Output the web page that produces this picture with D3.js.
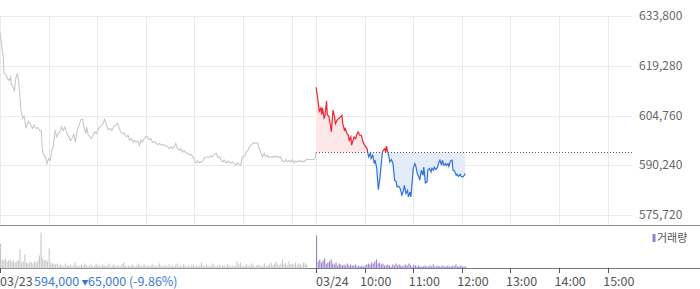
<!DOCTYPE html>
<html><head><meta charset="utf-8">
<script src="https://cdn.jsdelivr.net/npm/d3@7"></script>
<style>body{margin:0;background:#fff}svg{display:block}text{font-family:"Noto Sans CJK KR","Noto Sans",sans-serif}</style>
</head><body><svg id="c" width="700" height="289"></svg>
<script>
// ---- data ----
const yTicks = [575720, 590240, 604760, 619280, 633800];
const prevClose = 594000;
const dayLabels = ["03/23", "03/24"];
const timeTicks = [450, 510, 570, 630, 690, 750]; // minutes from 03/23 09:00 (390 per session)
const timeLabels = ["10:00", "11:00", "12:00", "13:00", "14:00", "15:00"];
const infoPrice = "594,000";
const infoArrow = "▼";
const infoChange = "65,000 (-9.86%)";
const legendLabel = "거래량";

// 03/23 session: minutes since 09:00, price
const day1Min = [0,4,5,8,9,11,13,14,16,18,19,21,23,25,26,28,30,32,35,38,40,42,44,47,49,51,52,53,56,58,60,62,64,66,68,70,72,74,76,78,80,82,84,87,90,91,93,95,97,100,102,104,106,107,109,111,113,115,117,119,122,124,127,129,131,133,136,138,140,143,145,147,149,151,153,156,158,160,162,164,166,168,170,172,174,176,178,180,182,184,186,188,190,193,195,197,199,201,203,205,207,209,211,213,215,217,219,221,223,225,227,230,232,234,236,238,240,242,244,246,248,250,252,254,256,258,260,262,264,267,269,271,273,275,277,279,281,283,285,287,289,291,293,295,297,299,302,304,306,308,310,312,316,318,320,322,324,326,328,330,332,334,336,338,340,342,344,346,348,351,353,355,357,359,361,363,365,367,369,371,373,375,378,387,389,390];
const day1Price = [629000,622000,617000,616500,615500,615000,616000,614000,613000,612000,615000,617000,615000,609000,606000,604000,604500,601000,603000,602000,601000,602000,601000,601200,600400,600400,595600,593700,592700,590700,592200,591700,594600,596100,600400,598500,599500,600000,601400,600400,601400,600000,599000,597500,598500,599500,597000,600000,601600,603600,603700,601000,599500,601400,599000,598500,598000,599000,600000,599500,601200,601600,602200,603700,602500,600700,601000,600400,601400,601900,602600,601000,600000,599500,599700,598500,599000,597500,598000,597000,597500,597000,597300,596000,597500,597000,598000,598700,598500,597700,598000,597000,597200,596600,596300,596600,596100,596300,596100,595900,595600,595100,595600,595100,595600,596600,595100,594600,595100,594100,594600,593700,593800,593200,593400,592700,591700,590900,591500,590900,591200,591300,592400,592500,592700,592500,593000,592700,593300,593700,592500,592700,591700,591200,591700,590900,591500,591200,590900,591200,590700,590400,590900,590400,590200,592700,592900,594100,594600,595600,596100,596700,596700,596700,595100,593800,592700,593700,592700,593200,592500,592700,592500,592900,592700,592900,592500,592700,591700,591200,591900,591200,591700,591200,591900,590900,591500,591200,591700,591200,591500,591200,591900,591900,592200,594000];

// 03/24 session: minutes since 09:00, price
const day2Min = [0,2,3,4,6,7,8,10,11,13,14,16,17,19,20,21,23,24,26,28,30,32,33,35,36,38,40,41,43,44,45,47,49,50,52,54,56,58,60,63,64,65,67,68,70,72,73,75,76,77,79,81,82,83,85,86,87,88,90,91,93,95,96,97,99,100,102,104,106,108,109,111,113,114,116,117,118,120,122,123,125,127,128,130,132,133,135,137,138,140,142,143,145,146,148,150,151,153,155,156,158,160,161,163,164,166,168,169,171,173,174,176,178,179,181,183,184];
const day2Price = [613000,610000,608000,606000,607000,605000,607000,604000,604500,609000,605000,604500,603000,600000,603400,606300,604300,602400,603400,603900,604300,604800,602400,600500,601000,599500,599000,597500,598500,596100,597000,598500,598000,599000,600000,599000,599000,597000,596100,595100,593800,592700,593700,592200,593200,590700,591700,589300,585900,583100,586800,591700,594100,594600,595100,594100,595800,594600,592700,591200,591900,590700,588300,585900,585400,583900,584100,583400,581500,582900,584400,582000,582900,581000,582400,581000,583400,589300,590700,590200,587800,586800,585900,588800,587300,589700,585100,585400,588800,589300,588300,589300,588800,589700,589000,589600,590700,591700,590200,591700,590200,590700,590200,590700,589900,591500,591700,588800,588600,587300,587600,587000,587600,587000,586800,587300,587800];

// volume (thousand shares), one bar per 2 minutes
const day1Vol = [25,9,8,10,7,8,9,7,8,6,7,8,19,6,7,14,6,5,7,6,5,7,6,8,13,36,10,8,9,7,20,6,5,5,4,5,
3,4,3,2,5,3,3,4,2,3,6,3,2,3,4,3,5,3,2,3,4,2,3,5,3,
3,2,4,3,2,3,5,2,3,4,2,3,3,2,4,6,3,2,3,2,4,3,2,3,5,3,2,3,4,2,
3,2,3,4,2,3,2,5,3,2,3,3,2,4,2,3,2,3,5,2,3,2,4,3,2,
3,2,3,4,2,3,2,3,6,3,2,4,3,2,3,5,3,2,3,4,2,3,3,2,4,3,2,3,2,3,
7,4,6,3,2,3,4,2,3,5,3,2,3,4,3,2,3,5,2,3,4,6,3,5,7,4,3,5,9,4,6,3,7,4,5,
4,6,3,5,4,3,6,5,4,0,0,0,0,0];
const day2Vol = [33,7,9,6,8,10,5,6,7,9,5,4,6,3,5,4,3,4,3,5,3,4,3,3,4,
2,3,2,3,2,3,4,5,4,6,5,7,9,5,6,4,5,3,
3,4,3,2,4,3,5,3,4,3,2,3,4,3,5,3,2,4,3,2,3,2,2,
2,3,2,2,3,2,4,2,2,3,2,2,3,2,2,3,2,2,3,2,4,2,2,3,2,2,2];

// ---- chart ----
const svg = d3.select("#c");
const x = d3.scaleLinear().domain([0, 780]).range([0, 632]);
const y = d3.scaleLinear().domain([575720, 633800]).range([215, 16]);
const yv = d3.scaleLinear().domain([0, 43]).range([268.5, 225.5]);
const cx = v => Math.round(x(v)) + 0.5;
const cy = v => Math.round(y(v)) + 0.5;

// grid
const vGrid = [0, 60, 120, 180, 240, 300, 360, 390, 450, 510, 570, 630, 690, 750];
svg.append("g").selectAll("line").data(yTicks).join("line")
  .attr("x1", 0).attr("x2", 632).attr("y1", d => cy(d)).attr("y2", d => cy(d))
  .attr("stroke", "#ebebeb");
svg.append("g").selectAll("line").data(vGrid).join("line")
  .attr("x1", d => cx(d)).attr("x2", d => cx(d)).attr("y1", cy(633800)).attr("y2", 225)
  .attr("stroke", "#ebebeb");

// y labels
svg.append("g").selectAll("text").data(yTicks).join("text")
  .attr("x", 639).attr("y", d => y(d)).attr("dy", "0.35em")
  .attr("font-size", 12).attr("fill", "#666")
  .text(d => d3.format(",")(d));

const d1 = d3.zip(day1Min, day1Price);
const d2 = d3.zip(day2Min, day2Price).map(([m, p]) => [m + 390, p]);

const yBase = y(prevClose);
const defs = svg.append("defs");
defs.append("clipPath").attr("id", "up").append("rect")
  .attr("x", 0).attr("y", 0).attr("width", 700).attr("height", yBase);
defs.append("clipPath").attr("id", "dn").append("rect")
  .attr("x", 0).attr("y", yBase).attr("width", 700).attr("height", 225 - yBase);

const area = d3.area().x(d => x(d[0])).y0(yBase).y1(d => y(d[1]));
const line = d3.line().x(d => x(d[0])).y(d => y(d[1]));

svg.append("path").datum(d2).attr("d", area).attr("fill", "#fde6e8").attr("clip-path", "url(#up)");
svg.append("path").datum(d2).attr("d", area).attr("fill", "#e4ecf9").attr("clip-path", "url(#dn)");

// baseline dotted
svg.append("line").attr("x1", x(390)).attr("x2", 632)
  .attr("y1", Math.round(yBase) + 0.5).attr("y2", Math.round(yBase) + 0.5)
  .attr("stroke", "#555").attr("stroke-dasharray", "1,2");

svg.append("path").datum(d1).attr("d", line).attr("fill", "none")
  .attr("stroke", "#c6c8cc").attr("stroke-width", 1.1);
svg.append("path").datum(d2).attr("d", line).attr("fill", "none")
  .attr("stroke", "#f0232d").attr("stroke-width", 1.2).attr("clip-path", "url(#up)");
svg.append("path").datum(d2).attr("d", line).attr("fill", "none")
  .attr("stroke", "#2f72d8").attr("stroke-width", 1.2).attr("clip-path", "url(#dn)");

// separators
svg.append("line").attr("x1", 0).attr("x2", 700).attr("y1", 225.5).attr("y2", 225.5).attr("stroke", "#8c8c8c");
svg.append("line").attr("x1", 0).attr("x2", 700).attr("y1", 268.5).attr("y2", 268.5).attr("stroke", "#777");

// volume bars
svg.append("g").selectAll("rect").data(day1Vol).join("rect")
  .attr("x", (d, i) => x(i * 2)).attr("width", 1.1)
  .attr("y", d => yv(d)).attr("height", d => yv(0) - yv(d))
  .attr("fill", "#c7c7c7");
svg.append("g").selectAll("rect").data(day2Vol).join("rect")
  .attr("x", (d, i) => x(390 + i * 2)).attr("width", 1.1)
  .attr("y", d => yv(d)).attr("height", d => yv(0) - yv(d))
  .attr("fill", "#9a80cc");

// legend
svg.append("rect").attr("x", 652.5).attr("y", 234).attr("width", 3).attr("height", 8).attr("fill", "#9a80cc");
svg.append("text").attr("x", 657).attr("y", 238).attr("dy", "0.35em").attr("font-size", 11)
  .attr("fill", "#555").text(legendLabel);

// x axis ticks
const allTicks = [0, 390].concat(timeTicks);
svg.append("g").selectAll("line").data(allTicks).join("line")
  .attr("x1", d => cx(d)).attr("x2", d => cx(d)).attr("y1", 268).attr("y2", 273)
  .attr("stroke", "#555");
const ly = 286;
svg.append("g").selectAll("text").data(timeTicks).join("text")
  .attr("x", (d, i) => x(d) - 4.5).attr("y", ly).attr("font-size", 12.5).attr("fill", "#555")
  .text((d, i) => timeLabels[i]);
svg.append("text").attr("x", x(0)).attr("y", ly).attr("font-size", 12.5).attr("fill", "#555").text(dayLabels[0]);
svg.append("text").attr("x", x(390)).attr("y", ly).attr("font-size", 12.5).attr("fill", "#555").text(dayLabels[1]);

// info
svg.append("text").attr("x", 34).attr("y", ly).attr("font-size", 12.5).attr("fill", "#3a78d8").text(infoPrice);
svg.append("text").attr("x", 81.5).attr("y", ly - 1.5).attr("font-size", 7).attr("fill", "#3a78d8")
  .attr("font-family", "DejaVu Sans").text(infoArrow);
svg.append("text").attr("x", 88).attr("y", ly).attr("font-size", 12.5).attr("fill", "#3a78d8").text(infoChange);
</script></body></html>
